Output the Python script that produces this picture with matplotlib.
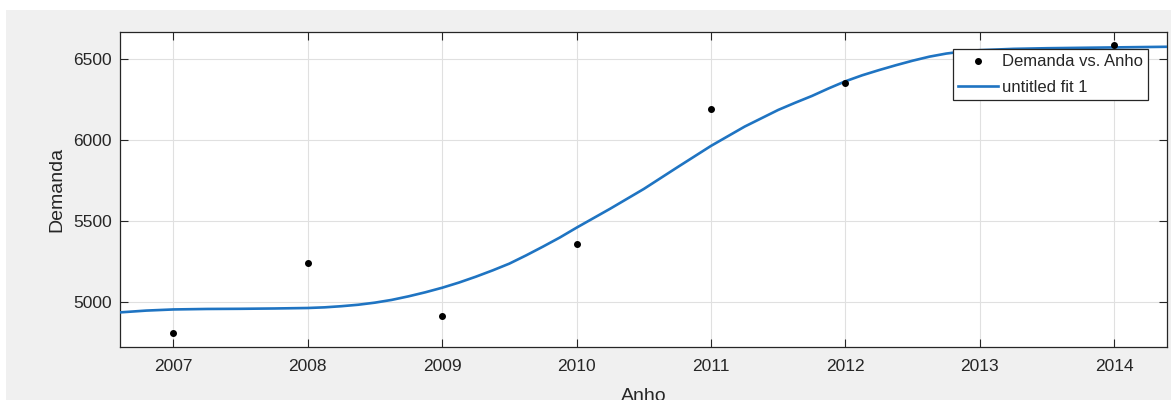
import matplotlib
matplotlib.use("Agg")
import matplotlib.pyplot as plt
from matplotlib.patches import Rectangle

plt.rcParams['font.family'] = ['Liberation Sans', 'DejaVu Sans']

# Observed demand per year
anho = [2007, 2008, 2009, 2010, 2011, 2012, 2014]
demanda = [4810, 5241, 4917, 5363, 6193, 6352, 6589]

# Fitted curve evaluated along the year axis
fit_x = [2006.606, 2006.8, 2007.0, 2007.25, 2007.5, 2007.75, 2008.0, 2008.125,
         2008.25, 2008.375, 2008.5, 2008.625, 2008.75, 2008.875, 2009.0,
         2009.125, 2009.25, 2009.375, 2009.5, 2009.625, 2009.75, 2009.875,
         2010.0, 2010.25, 2010.5, 2010.75, 2011.0, 2011.25, 2011.5, 2011.625,
         2011.75, 2011.875, 2012.0, 2012.125, 2012.25, 2012.375, 2012.5,
         2012.625, 2012.75, 2012.875, 2013.0, 2013.25, 2013.5, 2014.0, 2014.394]
fit_y = [4938, 4949, 4956, 4959, 4960, 4962, 4965, 4969,
         4976, 4985, 4998, 5015, 5037, 5062, 5090,
         5122, 5158, 5197, 5239, 5290, 5344, 5400,
         5461, 5578, 5700, 5834, 5966, 6085, 6188, 6232,
         6274, 6321, 6365, 6402, 6434, 6464, 6492,
         6517, 6536, 6549, 6557, 6565, 6569, 6574, 6578]

xticks = [2007, 2008, 2009, 2010, 2011, 2012, 2013, 2014]
yticks = [5000, 5500, 6000, 6500]

W, H = 1171, 400
fig = plt.figure(figsize=(W / 100, H / 100), dpi=100, facecolor='white')
fig.add_artist(Rectangle((6 / W, 0), 1 - 6 / W, (H - 10) / H,
                         transform=fig.transFigure, facecolor='#f0f0f0',
                         edgecolor='none', zorder=-10))

ax = fig.add_axes([120.3 / W, (H - 346.7) / H, 1047 / W, 315 / H])
ax.set_facecolor('white')

dark = '#262626'
ax.plot(fit_x, fit_y, color='#1f74c2', lw=1.9, label='untitled fit 1',
        zorder=3, solid_joinstyle='round')
ax.plot(anho, demanda, 'o', color='black', ms=4, label='Demanda vs. Anho', zorder=4)

ax.set_xlim(2006.606, 2014.394)
ax.set_ylim(4726, 6671)
ax.set_xticks(xticks)
ax.set_xticklabels([str(t) for t in xticks])
ax.set_yticks(yticks)
ax.grid(True, color='#e0e0e0', lw=0.8)
ax.set_axisbelow(True)

ax.tick_params(direction='in', length=6, width=0.8, colors=dark,
               labelsize=12.5, top=True, right=True)
ax.tick_params(axis='x', pad=9)
ax.tick_params(axis='y', pad=6)
for sp in ax.spines.values():
    sp.set_color(dark)
    sp.set_linewidth(0.9)

ax.set_xlabel('Anho', fontsize=14, color=dark, labelpad=10)
ax.set_ylabel('Demanda', fontsize=14, color=dark, labelpad=6)

h, l = ax.get_legend_handles_labels()
leg = ax.legend([h[1], h[0]], [l[1], l[0]], loc='upper right',
                bbox_to_anchor=(0.9816, 0.944), fontsize=12, frameon=True,
                fancybox=False, edgecolor=dark, framealpha=1,
                handlelength=2.4, handletextpad=0.25, labelspacing=0.62,
                borderpad=0.3, borderaxespad=0)
leg.get_frame().set_linewidth(0.9)
for t in leg.get_texts():
    t.set_color(dark)

fig.savefig('out.png', dpi=100, facecolor=fig.get_facecolor())
